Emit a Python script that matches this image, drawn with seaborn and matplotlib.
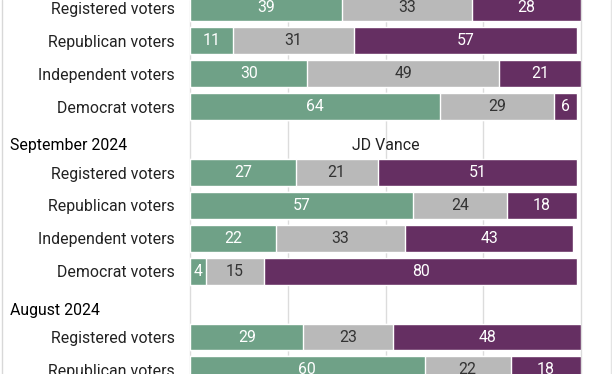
import matplotlib
matplotlib.use("Agg")
import matplotlib.pyplot as plt
from matplotlib.lines import Line2D
import seaborn as sns
import pandas as pd

# data (cropped view of a longer chart)
groups = ["", "September 2024", "August 2024"]
group_rows = [
    ["Registered voters", "Republican voters", "Independent voters", "Democrat voters"],
    ["Registered voters", "Republican voters", "Independent voters", "Democrat voters"],
    ["Registered voters", "Republican voters"],
]
favorable = [[39, 11, 30, 64], [27, 57, 22, 4], [29, 60]]
neutral = [[33, 31, 49, 29], [21, 24, 33, 15], [23, 22]]
unfavorable = [[28, 57, 21, 6], [51, 18, 43, 80], [48, 18]]
facet_title = "JD Vance"

GREEN = "#6fa187"
GRAY = "#b9b9b9"
PURPLE = "#652f62"
FS = 11.4

# build row table, header slot between groups
records = []
order = []
tick_names = []
header_pos = {}
for g, (name, rows) in enumerate(zip(groups, group_rows)):
    if g > 0:
        key = f"hdr{g}"
        order.append(key)
        tick_names.append("")
        header_pos[len(order) - 1] = name
    for i, r in enumerate(rows):
        key = f"{g}_{i}"
        order.append(key)
        tick_names.append(r)
        f, n, u = favorable[g][i], neutral[g][i], unfavorable[g][i]
        records.append({"row": key, "fav": f, "neu": n, "unf": u,
                        "c1": f, "c2": f + n, "c3": f + n + u})
df = pd.DataFrame(records)

sns.set_theme(style="white")
plt.rcParams["font.family"] = ["Roboto", "DejaVu Sans"]

fig = plt.figure(figsize=(6.12, 3.74), dpi=100)
ax = fig.add_axes([190 / 612, 0, 391 / 612, 1])

for x in [0, 25, 50, 75, 100]:
    ax.axvline(x, color="#dcdcdc", lw=1, zorder=0, clip_on=False)

# stacked bars: draw totals back to front
for col, c in [("c3", PURPLE), ("c2", GRAY), ("c1", GREEN)]:
    sns.barplot(data=df, x=col, y="row", order=order, orient="h",
                color=c, width=0.82, saturation=1, ax=ax, zorder=2)

pos = {k: i for i, k in enumerate(order)}
for _, r in df.iterrows():
    y = pos[r["row"]]
    ax.text(r["fav"] / 2, y, str(r["fav"]), ha="center", va="center",
            color="white", fontsize=FS, zorder=3)
    ax.text(r["fav"] + r["neu"] / 2, y, str(r["neu"]), ha="center", va="center",
            color="#333333", fontsize=FS, zorder=3)
    ax.text(r["fav"] + r["neu"] + r["unf"] / 2, y, str(r["unf"]), ha="center",
            va="center", color="white", fontsize=FS, zorder=3)

for y, name in header_pos.items():
    ax.text(-180 / 391 * 100, y + 0.18, name, ha="left", va="center",
            fontsize=FS, color="black", clip_on=False)
    if name == "September 2024":
        ax.text(50, y + 0.18, facet_title, ha="center", va="center",
                fontsize=FS, color="#222222")

ax.set_xlim(0, 100)
ax.set_ylim((374 - 8) / 32.9, -8 / 32.9)
ax.set_yticks(range(len(order)))
ax.set_yticklabels(tick_names, fontsize=FS, color="#222222")
ax.tick_params(axis="y", length=0, pad=11)
ax.set_xticks([])
ax.set_xlabel("")
ax.set_ylabel("")
sns.despine(ax=ax, left=True, bottom=True)

# thin frame lines at the sides of the image
fig.add_artist(Line2D([2 / 612, 2 / 612], [0, 1], color="#d8d8d8", lw=1))
fig.add_artist(Line2D([611 / 612, 611 / 612], [0, 1], color="#e4e4e4", lw=1))

fig.savefig("out.png", dpi=100)
